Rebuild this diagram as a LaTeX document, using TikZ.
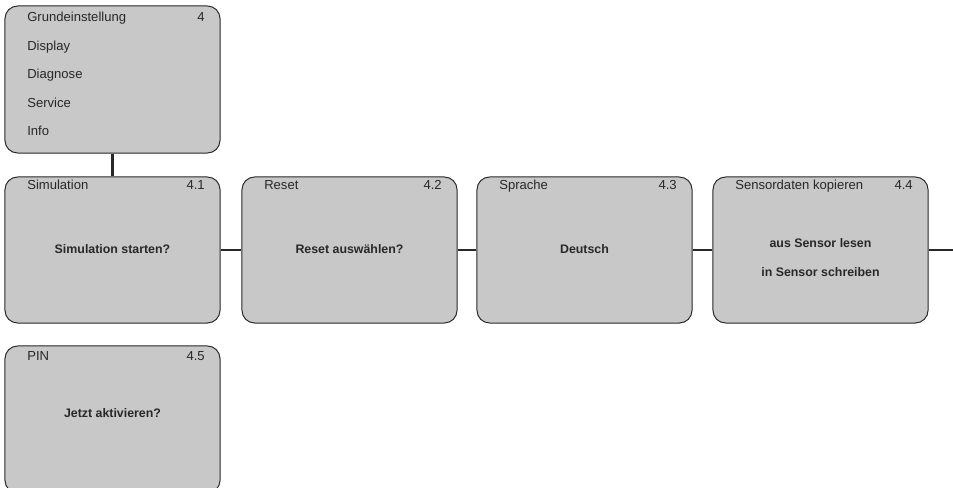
\documentclass[tikz,border=0pt]{standalone}
\usepackage{fontspec}
\setmainfont{Liberation Sans}
\usepackage{xcolor}
\usetikzlibrary{positioning, calc}
\definecolor{menufill}{RGB}{200,200,200}
\definecolor{menuink}{RGB}{40,40,40}
\tikzset{
  menubox/.style={
    draw=menuink, rounded corners=9pt, line width=0.7pt,
    fill=menufill, minimum width=5.375cm, minimum height=3.65cm,
    inner sep=0pt
  },
  menutitle/.style={
    anchor=base west, inner sep=0pt, text=menuink,
    font=\fontsize{9.3}{11}\selectfont
  },
  menunum/.style={
    anchor=base east, inner sep=0pt, text=menuink,
    font=\fontsize{9.3}{11}\selectfont
  },
  menutext/.style={
    anchor=base, inner sep=0pt, text=menuink,
    font=\fontsize{8.8}{11}\selectfont\bfseries
  },
  menuline/.style={line width=2pt, color=menuink},
}
\begin{document}
\begin{tikzpicture}[x=0.025cm, y=-0.025cm]
  \useasboundingbox (0,0) rectangle (953,487);
  \clip (0,0) rectangle (953,487);

  % --- Top menu ---
  \node[menubox, minimum height=3.675cm] (grund) at (112.5,79.5) {};
  \node[menutitle] (grundt) at (27,21.5) {Grundeinstellung};
  \node[menunum] (grundn) at (205,21.5) {4};
  \node[menutitle] (disp) at (27,50) {Display};
  \node[menutitle] (diag) at (27,78.5) {Diagnose};
  \node[menutitle] (serv) at (27,107) {Service};
  \node[menutitle] (info) at (27,135.5) {Info};

  % --- Row of sub menus ---
  \node[menubox] (sim) at (112.5,250) {};
  \node[menutitle] (simt) at (27,189.5) {Simulation};
  \node[menunum] (simn) at (205,189.5) {4.1};
  \node[menutext] (simq) at (112.5,253.5) {Simulation starten?};

  \node[menubox] (reset) at (349.5,250) {};
  \node[menutitle] (resett) at (264,189.5) {Reset};
  \node[menunum] (resetn) at (442,189.5) {4.2};
  \node[menutext] (resetq) at (349.5,253.5) {Reset auswählen?};

  \node[menubox] (lang) at (584.5,250) {};
  \node[menutitle] (langt) at (499,189.5) {Sprache};
  \node[menunum] (langn) at (677,189.5) {4.3};
  \node[menutext] (langq) at (584.5,253.5) {Deutsch};

  \node[menubox] (sens) at (820.5,250) {};
  \node[menutitle] (senst) at (735,189.5) {Sensordaten kopieren};
  \node[menunum] (sensn) at (913,189.5) {4.4};
  \node[menutext] (sensa) at (820.5,247.5) {aus Sensor lesen};
  \node[menutext] (sensb) at (820.5,276.5) {in Sensor schreiben};

  % --- PIN ---
  \node[menubox, minimum height=3.675cm] (pin) at (112.5,419.5) {};
  \node[menutitle] (pint) at (27,360.5) {PIN};
  \node[menunum] (pinn) at (205,360.5) {4.5};
  \node[menutext] (pinq) at (112.5,417.5) {Jetzt aktivieren?};

  % Connectors
  \coordinate (rightend) at (953,250);
  \draw[menuline] (grund.south) -- (sim.north);
  \draw[menuline] (sim.east) -- (reset.west);
  \draw[menuline] (reset.east) -- (lang.west);
  \draw[menuline] (lang.east) -- (sens.west);
  \draw[menuline] (sens.east) -- (rightend);
\end{tikzpicture}
\end{document}
